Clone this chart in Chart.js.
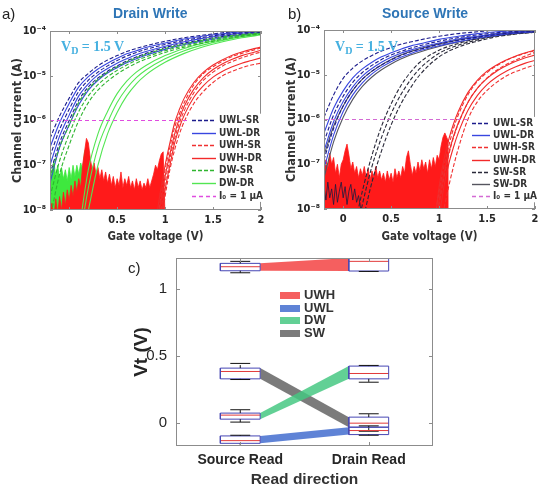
<!DOCTYPE html>
<html>
<head>
<meta charset="utf-8">
<script src="https://cdn.jsdelivr.net/npm/chart.js@4.4.1/dist/chart.umd.min.js"></script>
<style>
body { margin: 0; background: #fff; width: 545px; height: 491px; position: relative; overflow: hidden; font-family: "Liberation Sans", Arial, sans-serif; }
canvas { position: absolute; }
.t { position: absolute; white-space: nowrap; line-height: 1; }
.panel { font-size: 15px; color: #222; }
.ttl { font-size: 14px; font-weight: bold; color: #2e75b6; }
.vd { font-family: "Liberation Serif", "DejaVu Serif", serif; font-weight: bold; font-size: 14px; color: #45b0e0; }
.vd sub { font-size: 10px; vertical-align: -3px; }
</style>
</head>
<body>
<canvas id="drainWrite" width="270" height="250" style="left:0;top:0"></canvas>
<canvas id="sourceWrite" width="273" height="250" style="left:272px;top:0"></canvas>
<canvas id="vtChart" width="345" height="251" style="left:100px;top:240px"></canvas>

<div class="t panel" style="left:2px;top:6px">a)</div>
<div class="t ttl" style="left:113px;top:6px">Drain Write</div>
<div class="t panel" style="left:288px;top:6px">b)</div>
<div class="t ttl" style="left:382px;top:6px">Source Write</div>
<div class="t panel" style="left:128px;top:260px">c)</div>
<div class="t vd" style="left:61px;top:40px">V<sub>D</sub> = 1.5 V</div>
<div class="t vd" style="left:335px;top:40px">V<sub>D</sub> = 1.5 V</div>

<script>
// gate sweeps (V) and log10 of channel current (A)
const VG = [-0.2, -0.1, 0, 0.1, 0.2, 0.3, 0.4, 0.5, 0.6, 0.7, 0.8, 1.0, 1.2, 1.4, 1.6, 1.8, 2.0];
const VG_HI = [0.9, 0.95, 1.0, 1.05, 1.1, 1.15, 1.2, 1.3, 1.4, 1.5, 1.6, 1.7, 1.8, 1.9, 2.0];
const X_TICKS = [0, 0.5, 1, 1.5, 2];
const Y_TICKS = [-8, -7, -6, -5, -4];
const I0 = -6;

// panel a - drain write
const A_UWL_SR = [
  [-6.4, -5.9, -5.5, -5.15, -4.95, -4.78, -4.65, -4.55, -4.46, -4.39, -4.33, -4.23, -4.15, -4.09, -4.04, -4.0, -3.97],
  [-6.8, -6.2, -5.75, -5.35, -5.1, -4.92, -4.78, -4.66, -4.56, -4.48, -4.41, -4.3, -4.21, -4.14, -4.08, -4.04, -4.01],
  [-7.2, -6.5, -6.0, -5.55, -5.25, -5.05, -4.9, -4.78, -4.67, -4.58, -4.5, -4.37, -4.27, -4.19, -4.12, -4.07, -4.03]
];
const A_UWL_DR = [
  [-6.6, -6.05, -5.62, -5.25, -5.02, -4.85, -4.72, -4.61, -4.51, -4.44, -4.37, -4.27, -4.18, -4.11, -4.06, -4.02, -3.99],
  [-7.0, -6.35, -5.88, -5.45, -5.18, -4.98, -4.84, -4.72, -4.62, -4.53, -4.46, -4.34, -4.24, -4.16, -4.1, -4.05, -4.02],
  [-7.4, -6.6, -6.1, -5.65, -5.32, -5.1, -4.94, -4.82, -4.71, -4.62, -4.54, -4.41, -4.3, -4.22, -4.15, -4.09, -4.05]
];
const A_DW_SR = [
  [-7.3, -6.6, -6.1, -5.6, -5.3, -5.08, -4.92, -4.8, -4.69, -4.6, -4.52, -4.39, -4.29, -4.2, -4.13, -4.08, -4.04],
  [-7.7, -6.9, -6.3, -5.8, -5.45, -5.2, -5.02, -4.88, -4.76, -4.66, -4.58, -4.44, -4.33, -4.24, -4.16, -4.1, -4.06],
  [-8.2, -7.2, -6.55, -6.0, -5.6, -5.32, -5.12, -4.96, -4.83, -4.72, -4.63, -4.48, -4.36, -4.27, -4.19, -4.12, -4.07]
];
const A_DW_DR = [
  [null, null, null, -8.5, -7.1, -6.3, -5.8, -5.4, -5.12, -4.92, -4.77, -4.55, -4.39, -4.27, -4.18, -4.11, -4.06],
  [null, null, null, -8.8, -7.5, -6.6, -6.05, -5.6, -5.28, -5.04, -4.87, -4.62, -4.44, -4.31, -4.21, -4.13, -4.07],
  [null, null, null, null, -8.0, -7.0, -6.3, -5.82, -5.45, -5.18, -4.98, -4.7, -4.5, -4.35, -4.24, -4.15, -4.09]
];
const A_UWH_SR = [
  [-8.5, -7.8, -7.1, -6.6, -6.15, -5.85, -5.6, -5.2, -4.95, -4.8, -4.67, -4.57, -4.5, -4.44, -4.38],
  [-8.8, -8.1, -7.4, -6.85, -6.4, -6.05, -5.78, -5.38, -5.1, -4.92, -4.78, -4.68, -4.6, -4.53, -4.47],
  [null, -8.5, -7.7, -7.1, -6.65, -6.3, -6.02, -5.62, -5.35, -5.15, -5.0, -4.9, -4.82, -4.76, -4.72]
];
const A_UWH_DR = [
  [-8.3, -7.6, -7.0, -6.5, -6.05, -5.75, -5.5, -5.15, -4.92, -4.76, -4.64, -4.54, -4.47, -4.41, -4.36],
  [-8.6, -7.9, -7.25, -6.75, -6.3, -5.95, -5.68, -5.3, -5.04, -4.86, -4.73, -4.63, -4.55, -4.49, -4.43],
  [null, -8.3, -7.55, -7.0, -6.5, -6.15, -5.88, -5.48, -5.22, -5.03, -4.9, -4.8, -4.72, -4.66, -4.6]
];
const NOISE_X = [-0.2, -0.18, -0.16, -0.14, -0.12, -0.1, -0.08, -0.06, -0.04, -0.02, 0, 0.02, 0.04, 0.06, 0.08, 0.1, 0.12, 0.14, 0.16, 0.18,
  0.2, 0.22, 0.24, 0.26, 0.28, 0.3, 0.32, 0.34, 0.36, 0.38, 0.4, 0.42, 0.44, 0.46, 0.48, 0.5, 0.52, 0.54, 0.56, 0.58,
  0.6, 0.62, 0.64, 0.66, 0.68, 0.7, 0.72, 0.74, 0.76, 0.78, 0.8, 0.82, 0.84, 0.86, 0.88, 0.9, 0.92, 0.94, 0.96, 0.98,
  1.0, 1.02, 1.04, 1.06, 1.08, 1.1];
const A_UWH_NOISE = [-8.1, -7.85, -8.2, -7.75, -8.1, -7.7, -8.0, -7.6, -7.9, -7.55, -7.8, -7.45, -7.7, -7.35, -7.6, -7.3, -7.5, -7.0, -6.7, -6.4,
  -6.5, -6.85, -7.1, -6.95, -7.2, -7.05, -7.3, -7.1, -7.35, -7.15, -7.4, -7.2, -7.45, -7.25, -7.5, -7.3, -7.45, -7.15, -7.5, -7.3,
  -7.45, -7.25, -7.5, -7.35, -7.55, -7.3, -7.5, -7.35, -7.55, -7.4, -7.5, -7.3, -7.5, -7.35, -7.2, -7.0, -7.1, -6.9, -6.75, -6.7,
  -8.2];
const A_DW_NOISE = [-7.0, -7.2, -6.9, -7.25, -7.0, -7.3, -7.05, -7.3, -7.1, -7.35, -7.05, -7.3, -7.0, -7.25, -7.0, -7.2, -6.95, -7.1, -6.7, -6.6,
  -6.75, -7.0, -7.3, -7.6, -7.9, -8.3];

// panel b - source write
const B_UWL_SR = [
  [-5.95, -5.45, -5.08, -4.85, -4.69, -4.57, -4.47, -4.39, -4.32, -4.27, -4.22, -4.14, -4.08, -4.04, -4.0, -3.98, -3.96],
  [-6.5, -5.9, -5.48, -5.17, -4.95, -4.79, -4.66, -4.56, -4.48, -4.41, -4.35, -4.25, -4.17, -4.11, -4.06, -4.03, -4.0],
  [-6.9, -6.2, -5.7, -5.35, -5.1, -4.92, -4.78, -4.67, -4.57, -4.49, -4.43, -4.32, -4.23, -4.16, -4.1, -4.06, -4.03]
];
const B_UWL_DR = [
  [-6.3, -5.75, -5.36, -5.07, -4.87, -4.72, -4.6, -4.51, -4.43, -4.36, -4.31, -4.21, -4.14, -4.08, -4.04, -4.01, -3.98],
  [-6.7, -6.05, -5.6, -5.27, -5.03, -4.86, -4.72, -4.61, -4.52, -4.45, -4.39, -4.29, -4.2, -4.14, -4.08, -4.04, -4.01],
  [-7.1, -6.35, -5.82, -5.45, -5.18, -4.98, -4.83, -4.71, -4.61, -4.53, -4.46, -4.35, -4.26, -4.18, -4.12, -4.07, -4.04]
];
const B_SW_SR = [
  [null, null, null, -8.6, -7.6, -6.8, -6.15, -5.65, -5.25, -4.95, -4.72, -4.45, -4.3, -4.19, -4.11, -4.06, -4.02],
  [null, null, null, -8.9, -7.9, -7.05, -6.4, -5.87, -5.45, -5.12, -4.86, -4.52, -4.34, -4.22, -4.13, -4.08, -4.04],
  [null, null, null, null, -8.3, -7.4, -6.7, -6.12, -5.66, -5.3, -5.0, -4.6, -4.38, -4.25, -4.15, -4.09, -4.05]
];
const B_SW_DR = [
  [-6.8, -6.15, -5.7, -5.35, -5.1, -4.92, -4.78, -4.66, -4.56, -4.48, -4.42, -4.31, -4.22, -4.15, -4.09, -4.05, -4.02],
  [-7.3, -6.5, -5.95, -5.55, -5.26, -5.05, -4.89, -4.76, -4.65, -4.56, -4.49, -4.37, -4.27, -4.19, -4.13, -4.08, -4.05]
];
const B_UWH_SR = [
  [null, -8.6, -7.9, -7.3, -6.8, -6.4, -6.1, -5.62, -5.3, -5.07, -4.9, -4.77, -4.67, -4.58, -4.5],
  [null, null, -8.5, -8.0, -7.5, -7.05, -6.65, -6.0, -5.6, -5.35, -5.17, -5.03, -4.93, -4.85, -4.78],
  [null, -8.3, -7.6, -7.05, -6.6, -6.2, -5.9, -5.45, -5.15, -4.95, -4.8, -4.68, -4.59, -4.52, -4.46]
];
const B_UWH_DR = [
  [null, -8.4, -7.5, -6.9, -6.45, -6.1, -5.82, -5.4, -5.12, -4.92, -4.78, -4.67, -4.58, -4.51, -4.45],
  [null, -8.7, -7.8, -7.2, -6.75, -6.38, -6.08, -5.62, -5.3, -5.08, -4.92, -4.8, -4.7, -4.62, -4.56],
  [null, null, -8.2, -7.5, -7.0, -6.62, -6.3, -5.8, -5.46, -5.22, -5.05, -4.92, -4.82, -4.74, -4.68]
];
const B_UWH_NOISE = [-7.2, -6.9, -7.1, -6.75, -7.0, -6.85, -7.2, -7.0, -7.3, -7.0, -6.9, -6.7, -6.55, -6.8, -7.1, -6.95, -7.2, -7.05, -7.3, -7.1,
  -7.25, -7.05, -7.3, -7.1, -7.35, -7.15, -7.3, -7.05, -7.3, -7.15, -7.35, -7.2, -7.4, -7.15, -7.35, -7.2, -7.4, -7.1, -7.3, -7.15,
  -7.3, -7.05, -7.2, -6.85, -6.7, -7.0, -7.25, -7.05, -7.2, -6.95, -7.15, -6.9, -7.1, -6.95, -7.2, -6.9, -7.1, -6.85, -7.05, -6.8,
  -6.9, -6.6, -6.4, -6.3, -6.4, -6.5];
const B_SW_NOISE = [-7.5, -7.8, -7.4, -7.75, -7.55, -7.9, -7.45, -7.85, -7.6, -7.4, -7.75, -7.5, -7.9, -7.6, -7.45, -7.8, -7.55, -7.85, -7.7, -7.95, -8.2];

// panel c - threshold voltage box statistics (V)
const READS = ['Source Read', 'Drain Read'];
const STATES = ['UWH', 'UWL', 'DW', 'SW'];
const STATE_COLORS = ['rgba(244,78,78,0.9)', 'rgba(78,118,210,0.9)', 'rgba(70,200,130,0.85)', 'rgba(90,90,90,0.8)'];
const MED_SR = [1.165, -0.13, 0.06, 0.385];
const Q1_SR = [1.135, -0.15, 0.03, 0.33];
const Q3_SR = [1.19, -0.095, 0.075, 0.41];
const WLO_SR = [1.12, -0.175, 0.008, 0.325];
const WHI_SR = [1.205, -0.09, 0.1, 0.445];
const MED_DR = [1.205, -0.055, 0.37, 0.0];
const Q1_DR = [1.133, -0.085, 0.33, -0.03];
const Q3_DR = [1.23, -0.03, 0.425, 0.045];
const WLO_DR = [1.13, -0.09, 0.305, -0.06];
const WHI_DR = [1.235, -0.02, 0.43, 0.07];
const C_TICKS = [0, 0.5, 1];

const NARROW = '"Liberation Sans Narrow", "DejaVu Sans Condensed", "Liberation Sans", sans-serif';
const SUP = {'-': '\u207b', '0': '\u2070', '1': '\u00b9', '2': '\u00b2', '3': '\u00b3', '4': '\u2074', '5': '\u2075', '6': '\u2076', '7': '\u2077', '8': '\u2078', '9': '\u2079'};
const pow10 = e => '10' + String(e).split('').map(c => SUP[c]).join('');

const frame = {
  id: 'frame',
  afterDatasetsDraw(chart, args, o) {
    const {ctx, chartArea: a, scales} = chart;
    ctx.save();
    ctx.strokeStyle = o.color;
    ctx.lineWidth = 1;
    ctx.beginPath();
    scales.x.ticks.forEach(t => {
      const p = Math.round(scales.x.getPixelForValue(t.value)) + 0.5;
      ctx.moveTo(p, a.bottom); ctx.lineTo(p, a.bottom - o.tick);
      ctx.moveTo(p, a.top); ctx.lineTo(p, a.top + o.tick);
    });
    scales.y.ticks.forEach(t => {
      const p = Math.round(scales.y.getPixelForValue(t.value)) + 0.5;
      ctx.moveTo(a.left, p); ctx.lineTo(a.left + o.tick, p);
      ctx.moveTo(a.right, p); ctx.lineTo(a.right - o.tick, p);
    });
    ctx.stroke();
    ctx.strokeRect(Math.round(a.left) + 0.5, Math.round(a.top) + 0.5, Math.round(a.width) - 1, Math.round(a.height) - 1);
    ctx.restore();
  }
};

const key = {
  id: 'key',
  afterDraw(chart, args, o) {
    const items = chart.data.datasets.filter(d => d.legendText);
    const ctx = chart.ctx;
    ctx.save();
    ctx.font = o.font;
    ctx.textBaseline = 'middle';
    if (o.bg) {
      const w = o.len + o.gap + Math.max(...items.map(d => ctx.measureText(d.legendText).width)) + 4;
      ctx.fillStyle = o.bg;
      ctx.fillRect(o.x - 2, o.y - o.row / 2, w, items.length * o.row);
    }
    items.forEach((d, i) => {
      const y = Math.round(o.y + i * o.row) + 0.5;
      ctx.strokeStyle = o.swatch ? d.backgroundColor : d.borderColor;
      ctx.lineWidth = o.swatch || o.lineWidth;
      ctx.setLineDash(d.borderDash || []);
      ctx.beginPath();
      ctx.moveTo(o.x, y);
      ctx.lineTo(o.x + o.len, y);
      ctx.stroke();
      ctx.setLineDash([]);
      ctx.fillStyle = o.color;
      ctx.fillText(d.legendText, o.x + o.len + o.gap, y);
    });
    ctx.restore();
  }
};

const pts = (xs, ys) => xs.map((x, i) => ({x, y: ys[i] == null ? null : 10 ** ys[i]})).filter(p => p.y !== null);

function family(xs, rows, color, dashed, label, order) {
  return rows.map((ys, i) => ({
    data: pts(xs, ys),
    borderColor: color,
    borderWidth: 1.1,
    borderDash: dashed ? [4, 2] : [],
    showLine: true,
    pointRadius: 0,
    cubicInterpolationMode: 'monotone',
    fill: false,
    order,
    legendText: i === 0 ? label : undefined
  }));
}

function noise(xs, ys, color, order) {
  return {
    data: pts(xs, ys),
    borderColor: color,
    backgroundColor: color,
    borderWidth: 0.8,
    showLine: true,
    pointRadius: 0,
    fill: 'start',
    order
  };
}

function ioLine(color, label) {
  return {
    data: [{x: -0.2, y: 10 ** I0}, {x: 2, y: 10 ** I0}],
    borderColor: color,
    borderWidth: 1.1,
    borderDash: [4, 3],
    showLine: true,
    pointRadius: 0,
    order: 0,
    legendText: label
  };
}

function ivChart(id, datasets, yWidth, xHeight, pad, keyOpts) {
  const bold11 = {family: NARROW, size: 11, weight: 'bold'};
  return new Chart(document.getElementById(id), {
    type: 'scatter',
    data: {datasets},
    plugins: [frame, key],
    options: {
      responsive: false,
      animation: false,
      devicePixelRatio: 1,
      layout: {padding: pad},
      plugins: {
        legend: {display: false},
        tooltip: {enabled: false},
        frame: {color: '#8c8c8c', tick: 3},
        key: keyOpts
      },
      scales: {
        x: {
          type: 'linear', min: -0.2, max: 2,
          afterBuildTicks: s => { s.ticks = X_TICKS.map(v => ({value: v})); },
          afterFit: s => { s.height = xHeight; },
          grid: {display: false, drawTicks: false},
          border: {display: false},
          ticks: {padding: 4, font: bold11, color: '#262626', callback: v => String(v)},
          title: {display: true, text: 'Gate voltage (V)', font: {family: NARROW, size: 11.5, weight: 'bold'}, color: '#333', padding: {top: 0, bottom: 6}}
        },
        y: {
          type: 'logarithmic', min: 10 ** -8, max: 10 ** -4,
          afterBuildTicks: s => { s.ticks = Y_TICKS.map(e => ({value: 10 ** e})); },
          afterFit: s => { s.width = yWidth; },
          grid: {display: false, drawTicks: false},
          border: {display: false},
          ticks: {padding: 4, font: bold11, color: '#262626', callback: v => pow10(Math.round(Math.log10(v)))},
          title: {display: true, text: 'Channel current (A)', font: {family: NARROW, size: 12.5, weight: 'bold'}, color: '#333', padding: {top: yWidth - 40, bottom: 0}}
        }
      }
    }
  });
}

const legendFont = 'bold 10px ' + NARROW;

ivChart('drainWrite', [
  ...family(VG, A_UWL_SR, '#1c1c8c', true, 'UWL-SR', 3),
  ...family(VG, A_UWL_DR, '#3846e0', false, 'UWL-DR', 3),
  ...family(VG_HI, A_UWH_SR, '#f03030', true, 'UWH-SR', 5),
  ...family(VG_HI, A_UWH_DR, '#f22a2a', false, 'UWH-DR', 5),
  ...family(VG, A_DW_SR, '#2fb52f', true, 'DW-SR', 2),
  ...family(VG, A_DW_DR, '#52e652', false, 'DW-DR', 2),
  ioLine('#e04ce0', 'I\u2080 = 1 \u03bcA'),
  noise(NOISE_X.slice(0, A_UWH_NOISE.length), A_UWH_NOISE, '#ff1a1a', 8),
  noise(NOISE_X.slice(0, A_DW_NOISE.length), A_DW_NOISE, '#3ee83e', 9)
], 50, 40, {left: 0, right: 9, top: 31, bottom: 0},
  {x: 192, y: 120, row: 12.6, len: 24, gap: 3, lineWidth: 1.4, font: legendFont, color: '#333', bg: '#fff'});

ivChart('sourceWrite', [
  ...family(VG, B_UWL_SR, '#1c1c8c', true, 'UWL-SR', 3),
  ...family(VG, B_UWL_DR, '#3846e0', false, 'UWL-DR', 3),
  ...family(VG_HI, B_UWH_SR, '#f03030', true, 'UWH-SR', 5),
  ...family(VG_HI, B_UWH_DR, '#f22a2a', false, 'UWH-DR', 5),
  ...family(VG, B_SW_SR, '#2a2a3a', true, 'SW-SR', 4),
  ...family(VG, B_SW_DR, '#55555f', false, 'SW-DR', 4),
  ioLine('#d46ad4', 'I\u2080 = 1 \u03bcA'),
  {...noise(NOISE_X.slice(0, B_SW_NOISE.length), B_SW_NOISE, '#1a1a40', 7), fill: false},
  noise(NOISE_X, B_UWH_NOISE, '#ff1a1a', 8)
], 52, 41, {left: 0, right: 10, top: 30, bottom: 0},
  {x: 200, y: 123, row: 12.2, len: 18, gap: 3, lineWidth: 1.4, font: legendFont, color: '#333', bg: '#fff'});

// panel c
const BOX_HALF = 0.155;
const cSets = [];
STATES.forEach((s, i) => {
  cSets.push({
    data: [{x: 1 + BOX_HALF, y: Q3_SR[i]}, {x: 2 - BOX_HALF, y: Q3_DR[i]}],
    showLine: true, pointRadius: 0, borderColor: 'rgba(0,0,0,0)', backgroundColor: STATE_COLORS[i],
    fill: '+1', order: 3, legendText: s
  });
  cSets.push({
    data: [{x: 1 + BOX_HALF, y: Q1_SR[i]}, {x: 2 - BOX_HALF, y: Q1_DR[i]}],
    showLine: true, pointRadius: 0, borderColor: 'rgba(0,0,0,0)', fill: false, order: 3
  });
});
const boxes = [
  [1, MED_SR, Q1_SR, Q3_SR, WLO_SR, WHI_SR],
  [2, MED_DR, Q1_DR, Q3_DR, WLO_DR, WHI_DR]
];
const seg = (data, color, dash) => ({data, showLine: true, pointRadius: 0, borderColor: color, borderWidth: 1, borderDash: dash || [], fill: false, order: 1});
boxes.forEach(([x, med, q1, q3, lo, hi]) => {
  STATES.forEach((s, i) => {
    cSets.push(seg([{x, y: q3[i]}, {x, y: hi[i]}], '#111', [3, 2]));
    cSets.push(seg([{x, y: q1[i]}, {x, y: lo[i]}], '#111', [3, 2]));
    cSets.push(seg([{x: x - BOX_HALF / 2, y: hi[i]}, {x: x + BOX_HALF / 2, y: hi[i]}], '#111'));
    cSets.push(seg([{x: x - BOX_HALF / 2, y: lo[i]}, {x: x + BOX_HALF / 2, y: lo[i]}], '#111'));
    cSets.push(seg([
      {x: x - BOX_HALF, y: q1[i]}, {x: x + BOX_HALF, y: q1[i]}, {x: x + BOX_HALF, y: q3[i]},
      {x: x - BOX_HALF, y: q3[i]}, {x: x - BOX_HALF, y: q1[i]}
    ], '#4646b4'));
    cSets.push(seg([{x: x - BOX_HALF, y: med[i]}, {x: x + BOX_HALF, y: med[i]}], '#e23a3a'));
  });
});

new Chart(document.getElementById('vtChart'), {
  type: 'scatter',
  data: {datasets: cSets},
  plugins: [frame, key],
  options: {
    responsive: false,
    animation: false,
    devicePixelRatio: 1,
    layout: {padding: {left: 0, right: 12, top: 13, bottom: 0}},
    plugins: {
      legend: {display: false},
      tooltip: {enabled: false},
      frame: {color: '#8c8c8c', tick: 4},
      key: {x: 180, y: 55, row: 12.7, len: 20, gap: 4, swatch: 7, font: 'bold 13px "Liberation Sans", Arial, sans-serif', color: '#333'}
    },
    scales: {
      x: {
        type: 'linear', min: 0.5, max: 2.5,
        afterBuildTicks: s => { s.ticks = READS.map((r, i) => ({value: i + 1})); },
        afterFit: s => { s.height = 45; },
        grid: {display: false, drawTicks: false},
        border: {display: false},
        ticks: {padding: 6, font: {family: 'Liberation Sans', size: 14, weight: 'bold'}, color: '#262626', callback: v => READS[v - 1]},
        title: {display: true, text: 'Read direction', font: {family: 'Liberation Sans', size: 15.5, weight: 'bold'}, color: '#333', padding: {top: 0, bottom: 2}}
      },
      y: {
        type: 'linear', min: -0.17, max: 1.23,
        afterBuildTicks: s => { s.ticks = C_TICKS.map(v => ({value: v})); },
        afterFit: s => { s.width = 76; },
        grid: {display: false, drawTicks: false},
        border: {display: false},
        ticks: {padding: 9, font: {family: 'Liberation Sans', size: 15}, color: '#262626', callback: v => String(v)},
        title: {display: true, text: 'Vt (V)', font: {family: 'Liberation Sans', size: 19, weight: 'bold'}, color: '#262626', padding: {top: 30, bottom: 0}}
      }
    }
  }
});
</script>
</body>
</html>
